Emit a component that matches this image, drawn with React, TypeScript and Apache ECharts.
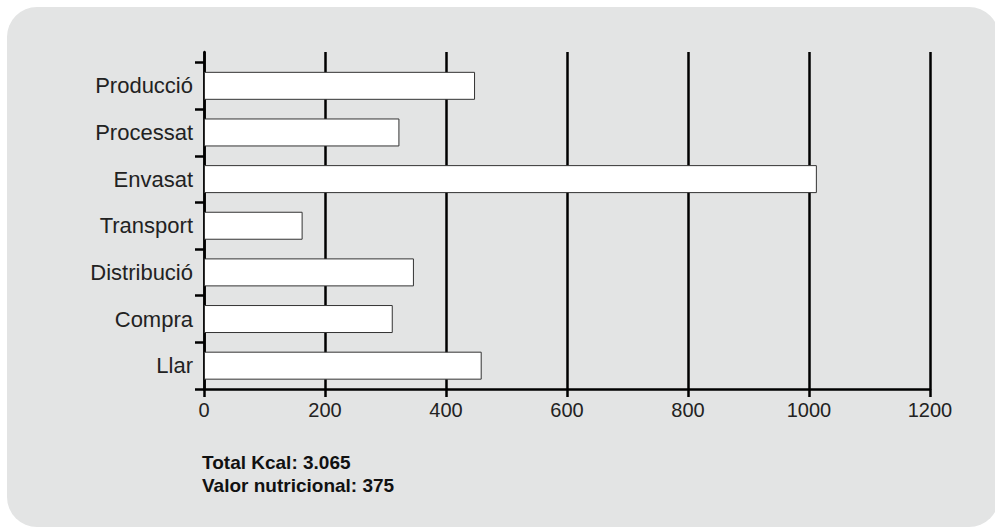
import React, { useEffect, useRef } from "react";
import * as echarts from "echarts";

const categories = ["Producció", "Processat", "Envasat", "Transport", "Distribució", "Compra", "Llar"];
const kcalValues = [448, 323, 1013, 163, 347, 312, 459];
const xTicks = [0, 200, 400, 600, 800, 1000, 1200];
const notes = ["Total Kcal: 3.065", "Valor nutricional: 375"];

export default function App() {
  const ref = useRef<HTMLDivElement>(null);
  useEffect(() => {
    if (!ref.current) return;
    const chart = echarts.init(ref.current, null, { renderer: "svg" });
    const font = "'Liberation Sans', Arial, sans-serif";
    const lineW = 2.5;
    chart.setOption({
      animation: false,
      textStyle: { fontFamily: font },
      graphic: [
        {
          type: "rect",
          z: -10,
          shape: { x: 7, y: 7, width: 992, height: 520, r: 30 },
          style: { fill: "#e3e4e4" },
          silent: true,
        },
        ...notes.map((t, i) => ({
          type: "text",
          x: 202,
          y: 462 + i * 23,
          style: {
            text: t,
            fill: "#111",
            font: `bold 19px ${font}`,
            textAlign: "left",
            textVerticalAlign: "middle",
          },
        })),
      ],
      grid: [
        { left: 204, right: 65, top: 62.5, bottom: 139 },
        { left: 204, right: 65, top: 52, bottom: 139 },
      ],
      xAxis: [
        {
          type: "value",
          gridIndex: 0,
          min: xTicks[0],
          max: xTicks[xTicks.length - 1],
          interval: 200,
          axisLine: { show: true, lineStyle: { color: "#000", width: lineW } },
          axisTick: { show: true, length: 8, lineStyle: { color: "#000", width: lineW } },
          axisLabel: {
            color: "#222",
            fontSize: 20,
            margin: 11,
            fontFamily: font,
            formatter: (v: number) => String(v),
          },
          splitLine: { show: false },
        },
        {
          type: "value",
          gridIndex: 1,
          min: xTicks[0],
          max: xTicks[xTicks.length - 1],
          interval: 200,
          axisLine: { show: false },
          axisTick: { show: false },
          axisLabel: { show: false },
          splitLine: { show: true, lineStyle: { color: "#000", width: lineW } },
        },
      ],
      yAxis: [
        {
          type: "category",
          gridIndex: 0,
          inverse: true,
          data: categories,
          axisLine: { show: false },
          axisTick: { show: true, length: 9, lineStyle: { color: "#000", width: lineW } },
          axisLabel: { color: "#222", fontSize: 22, margin: 11, fontFamily: font },
        },
        {
          type: "value",
          gridIndex: 1,
          axisLine: { show: true, onZero: false, lineStyle: { color: "#000", width: lineW } },
          axisTick: { show: false },
          axisLabel: { show: false },
          splitLine: { show: false },
        },
      ],
      series: [
        {
          type: "bar",
          xAxisIndex: 0,
          yAxisIndex: 0,
          data: kcalValues,
          barWidth: "60%",
          z: 5,
          itemStyle: { color: "#fff", borderColor: "#333", borderWidth: 1 },
        },
      ],
    });
    return () => chart.dispose();
  }, []);
  return (
    <div
      ref={ref}
      style={{ position: "absolute", left: 0, top: 0, width: 995, height: 528, overflow: "hidden" }}
    />
  );
}
